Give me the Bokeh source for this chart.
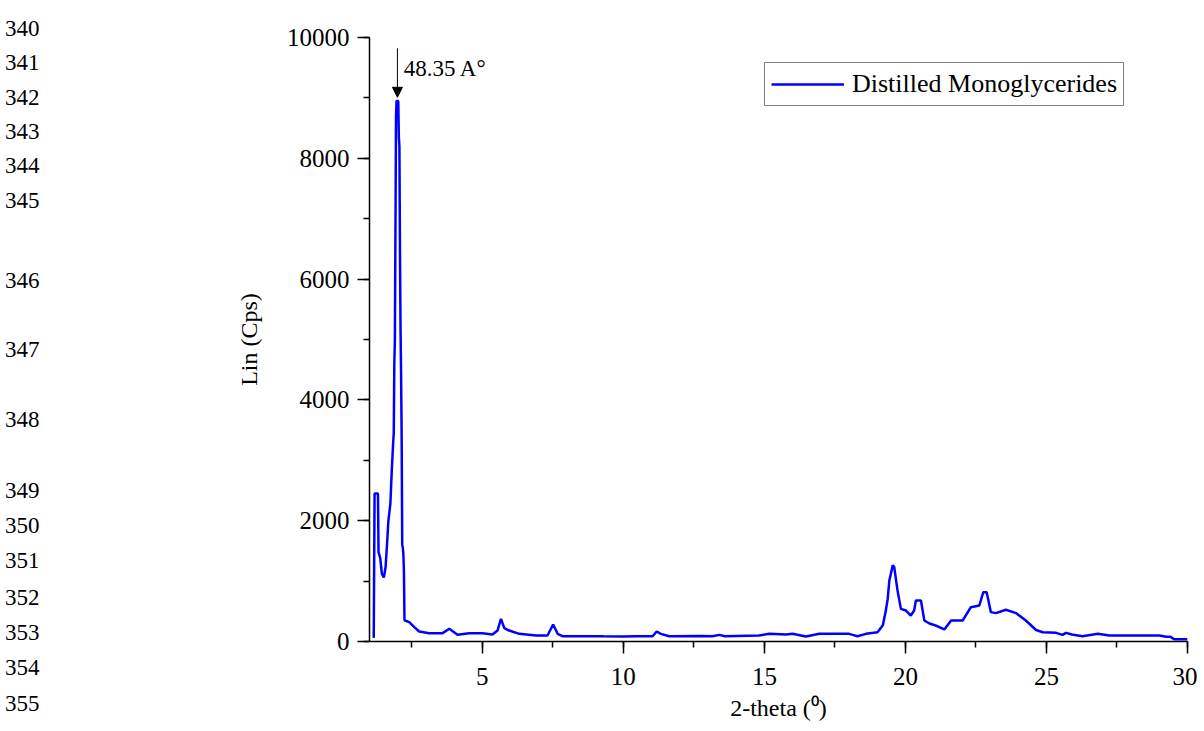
from bokeh.plotting import figure
from bokeh.models import (SingleIntervalTicker, Range1d, Legend, LegendItem, Arrow,
                          NormalHead, Label, Div)
from bokeh.layouts import row
from bokeh.embed import file_html
from bokeh.resources import INLINE

# ---------------- data ----------------
series_name = "Distilled Monoglycerides"
two_theta = [1.15, 1.18, 1.30, 1.32, 1.38, 1.44, 1.51, 1.57, 1.62, 1.67,
             1.74, 1.79, 1.84, 1.86, 1.88, 1.90, 1.92, 1.94, 1.96, 2.02,
             2.04, 2.06, 2.08, 2.10, 2.12, 2.14, 2.16, 2.18, 2.20, 2.22,
             2.24, 2.30, 2.41, 2.59, 2.76, 3.12, 3.59, 3.83, 3.95, 4.12,
             4.54, 5.00, 5.36, 5.54, 5.66, 5.78, 5.95, 6.31, 6.90, 7.31,
             7.51, 7.67, 7.84, 8.67, 9.30, 10.00, 10.44, 11.04, 11.18, 11.33,
             11.63, 12.81, 13.16, 13.40, 13.60, 14.80, 15.17, 15.76, 16.00, 16.47,
             16.95, 18.00, 18.13, 18.30, 18.60, 19.01, 19.20, 19.30, 19.37, 19.43,
             19.55, 19.60, 19.72, 19.84, 20.02, 20.19, 20.31, 20.37, 20.55, 20.67,
             20.85, 21.07, 21.38, 21.62, 21.73, 22.03, 22.32, 22.62, 22.76, 22.88,
             23.03, 23.21, 23.56, 23.92, 24.27, 24.63, 24.87, 25.34, 25.57, 25.69,
             25.90, 26.28, 26.82, 27.23, 27.70, 29.00, 29.24, 29.40, 29.53, 30.00]
counts = [60, 2450, 2450, 1480, 1380, 1120, 1060, 1230, 1600, 2000,
          2280, 2830, 3300, 3450, 4600, 5000, 6800, 8700, 8950, 8950,
          8350, 8200, 6500, 5200, 4400, 3400, 1600, 1560, 1450, 1180,
          350, 340, 320, 237, 166, 138, 138, 210, 170, 110,
          138, 138, 115, 182, 375, 220, 182, 127, 99, 99,
          282, 127, 88, 88, 85, 82, 88, 88, 166, 127,
          88, 90, 88, 110, 88, 99, 127, 116, 127, 82,
          127, 127, 110, 88, 127, 154, 270, 500, 700, 1010,
          1260, 1240, 845, 540, 513, 430, 513, 680, 680, 348,
          298, 265, 199, 348, 348, 348, 568, 596, 817, 817,
          486, 470, 525, 470, 348, 190, 154, 143, 110, 143,
          115, 88, 127, 99, 99, 99, 77, 77, 38, 38]
assert len(two_theta) == len(counts)

peak_x = 1.99
peak_label = "48.35 A\u00b0"
x_label = "2-theta (\u2070)"
y_label = "Lin (Cps)"
line_numbers = [340, 341, 342, 343, 344, 345, 346, 347, 348, 349, 350, 351, 352, 353, 354, 355]

# ---------------- layout ----------------
FONT = "Liberation Serif"
line_centers = [28, 62, 97, 131, 165, 200, 280, 349, 419, 490, 525, 560, 597, 632, 667, 703]
spans = "".join(
    f'<div style="position:absolute;left:0px;top:{c - 15}px;font-family:\'{FONT}\';'
    f'font-size:23px;line-height:22px;color:#000;">{n}</div>'
    for n, c in zip(line_numbers, line_centers))
div = Div(text=f'<div style="position:relative;width:52px;height:723px;overflow:hidden;">{spans}</div>',
          width=52, height=723)

p = figure(width=1135, height=723, output_backend="svg", toolbar_location=None,
           x_range=Range1d(1, 30), y_range=Range1d(0, 10000),
           min_border_left=307, min_border_right=10, min_border_top=37, min_border_bottom=82)
p.outline_line_color = None
p.xgrid.visible = False
p.ygrid.visible = False
p.background_fill_color = "white"

r = p.line(two_theta, counts, line_color="#0000FF", line_width=2.5)

p.xaxis.ticker = SingleIntervalTicker(interval=5, num_minor_ticks=2)
p.yaxis.ticker = SingleIntervalTicker(interval=2000, num_minor_ticks=2)
for ax in (p.xaxis[0], p.yaxis[0]):
    ax.axis_line_color = "black"
    ax.axis_line_width = 1.5
    ax.major_tick_line_color = "black"
    ax.minor_tick_line_color = "black"
    ax.major_tick_line_width = 1.5
    ax.minor_tick_line_width = 1.5
    ax.major_tick_in = 0
    ax.major_tick_out = 12
    ax.minor_tick_in = 0
    ax.minor_tick_out = 6
    ax.major_label_text_font = FONT
    ax.major_label_text_font_size = "25px"
    ax.major_label_text_color = "black"
    ax.axis_label_text_font = FONT
    ax.axis_label_text_font_size = "24px"
    ax.axis_label_text_font_style = "normal"
    ax.axis_label_text_color = "black"
p.xaxis.axis_label = x_label
p.yaxis.axis_label = y_label
p.xaxis.major_label_standoff = 14
p.xaxis.axis_label_standoff = 7
p.yaxis.major_label_standoff = 8
p.yaxis.axis_label_standoff = 22

# annotation arrow and label
p.add_layout(Arrow(end=NormalHead(size=10, fill_color="black", line_color="black"),
                   x_start=peak_x, y_start=9820, x_end=peak_x, y_end=9010,
                   line_color="black", line_width=1))
p.add_layout(Label(x=peak_x + 0.22, y=9490, text=peak_label, text_font=FONT,
                   text_font_size="23px", text_color="black", text_baseline="alphabetic"))

legend = Legend(items=[LegendItem(label=series_name, renderers=[r])],
                location=(395, 535))
legend.border_line_color = "black"
legend.border_line_width = 1
legend.background_fill_color = "white"
legend.background_fill_alpha = 1
legend.label_text_font = FONT
legend.label_text_font_size = "26px"
legend.label_text_color = "black"
legend.glyph_width = 73
legend.glyph_height = 30
legend.label_height = 30
legend.label_standoff = 8
legend.padding = 6
legend.margin = 0
p.add_layout(legend)

layout = row(div, p)
open("out.html", "w").write(file_html(layout, INLINE))
